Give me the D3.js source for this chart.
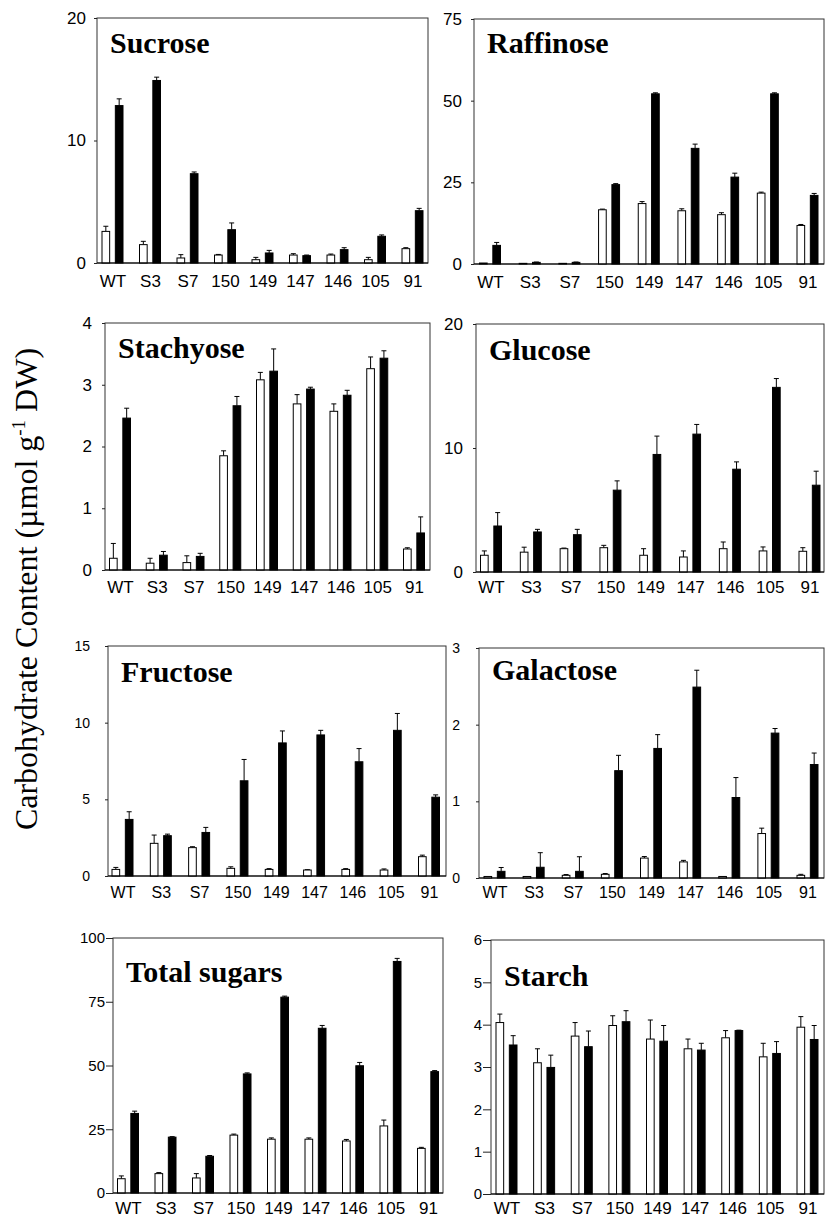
<!DOCTYPE html>
<html>
<head>
<meta charset="utf-8">
<script src="https://cdn.jsdelivr.net/npm/d3@7/dist/d3.min.js"></script>
<style>
  body { margin: 0; background: #fff; }
  .tick text { font-family: "Liberation Sans", Arial, sans-serif; fill: #000; }
  .ptitle { font-family: "Liberation Serif", "Times New Roman", serif; font-weight: bold; font-size: 30px; }
</style>
</head>
<body>
<div id="chart"></div>
<script>
// lines (genotypes) on the x axis
const lines = ['WT', 'S3', 'S7', '150', '149', '147', '146', '105', '91'];

// white bars = open, black bars = filled; err = upper error bar length
const sucroseWhite = [2.58, 1.5, 0.41, 0.65, 0.27, 0.65, 0.65, 0.27, 1.17];
const sucroseWhiteErr = [0.42, 0.27, 0.27, 0.05, 0.19, 0.11, 0.08, 0.19, 0.08];
const sucroseBlack = [12.85, 14.9, 7.29, 2.72, 0.82, 0.6, 1.09, 2.18, 4.27];
const sucroseBlackErr = [0.55, 0.27, 0.14, 0.55, 0.21, 0.05, 0.16, 0.11, 0.19];

const raffinoseWhite = [0.3, 0.2, 0.2, 16.6, 18.5, 16.3, 15.1, 21.7, 11.8];
const raffinoseWhiteErr = [0, 0, 0, 0.2, 0.6, 0.6, 0.6, 0.3, 0.3];
const raffinoseBlack = [5.7, 0.5, 0.5, 24.3, 52.1, 35.4, 26.6, 52.1, 21.0];
const raffinoseBlackErr = [0.9, 0.1, 0.1, 0.3, 0.3, 1.3, 1.2, 0.3, 0.6];

const stachyoseWhite = [0.19, 0.11, 0.12, 1.85, 3.08, 2.69, 2.57, 3.26, 0.34];
const stachyoseWhiteErr = [0.24, 0.08, 0.11, 0.08, 0.12, 0.15, 0.12, 0.19, 0.02];
const stachyoseBlack = [2.46, 0.24, 0.22, 2.66, 3.22, 2.93, 2.83, 3.43, 0.6];
const stachyoseBlackErr = [0.16, 0.06, 0.05, 0.15, 0.36, 0.03, 0.08, 0.12, 0.26];

const glucoseWhite = [1.35, 1.6, 1.88, 1.96, 1.35, 1.21, 1.88, 1.7, 1.67];
const glucoseWhiteErr = [0.35, 0.4, 0.05, 0.19, 0.53, 0.49, 0.54, 0.32, 0.29];
const glucoseBlack = [3.71, 3.23, 3.01, 6.6, 9.48, 11.12, 8.29, 14.89, 7.0];
const glucoseBlackErr = [1.08, 0.21, 0.43, 0.75, 1.48, 0.78, 0.59, 0.71, 1.13];

const fructoseWhite = [0.43, 2.13, 1.85, 0.5, 0.43, 0.39, 0.43, 0.39, 1.26];
const fructoseWhiteErr = [0.13, 0.54, 0.06, 0.1, 0.05, 0.02, 0.05, 0.07, 0.1];
const fructoseBlack = [3.69, 2.63, 2.84, 6.21, 8.68, 9.2, 7.45, 9.5, 5.14];
const fructoseBlackErr = [0.5, 0.1, 0.33, 1.39, 0.78, 0.3, 0.86, 1.1, 0.15];

const galactoseWhite = [0.02, 0.02, 0.035, 0.048, 0.26, 0.21, 0.02, 0.58, 0.035];
const galactoseWhiteErr = [0, 0, 0.01, 0.01, 0.02, 0.02, 0, 0.07, 0.013];
const galactoseBlack = [0.087, 0.14, 0.087, 1.4, 1.69, 2.49, 1.05, 1.89, 1.48];
const galactoseBlackErr = [0.05, 0.19, 0.19, 0.2, 0.18, 0.22, 0.26, 0.06, 0.15];

const totalWhite = [5.6, 7.6, 5.9, 22.7, 21.1, 21.1, 20.4, 26.3, 17.5];
const totalWhiteErr = [1.1, 0.4, 1.7, 0.4, 0.5, 0.5, 0.6, 2.3, 0.4];
const totalBlack = [31.2, 21.9, 14.4, 46.7, 76.8, 64.6, 49.9, 90.8, 47.6];
const totalBlackErr = [0.9, 0.2, 0.3, 0.4, 0.4, 1.1, 1.3, 1.2, 0.4];

const starchWhite = [4.05, 3.1, 3.73, 3.98, 3.66, 3.43, 3.69, 3.24, 3.94];
const starchWhiteErr = [0.2, 0.33, 0.32, 0.23, 0.45, 0.23, 0.17, 0.32, 0.25];
const starchBlack = [3.52, 2.99, 3.48, 4.07, 3.61, 3.4, 3.86, 3.32, 3.65];
const starchBlackErr = [0.22, 0.29, 0.37, 0.26, 0.37, 0.16, 0.01, 0.28, 0.33];

// y axis ticks per panel
const sucroseTicks = [0, 10, 20];
const raffinoseTicks = [0, 25, 50, 75];
const stachyoseTicks = [0, 1, 2, 3, 4];
const glucoseTicks = [0, 10, 20];
const fructoseTicks = [0, 5, 10, 15];
const galactoseTicks = [0, 1, 2, 3];
const totalTicks = [0, 25, 50, 75, 100];
const starchTicks = [0, 1, 2, 3, 4, 5, 6];

const yTitle = 'Carbohydrate Content (µmol g';

// panel layout (pixel boxes) + data refs
const panels = [
  {title: 'Sucrose', w: sucroseWhite, we: sucroseWhiteErr, b: sucroseBlack, be: sucroseBlackErr, ticks: sucroseTicks,
   l: 97, r: 428, t: 18, bot: 263, c0: 112.5, c8: 412.5, tf: 17, tk: 3, tp: 8, ty: 35, xb: 24, xf: 17},
  {title: 'Raffinose', w: raffinoseWhite, we: raffinoseWhiteErr, b: raffinoseBlack, be: raffinoseBlackErr, ticks: raffinoseTicks,
   l: 474, r: 824, t: 19, bot: 264, c0: 490, c8: 807.5, tf: 17, tk: 3, tp: 9, ty: 34, xb: 24, xf: 17},
  {title: 'Stachyose', w: stachyoseWhite, we: stachyoseWhiteErr, b: stachyoseBlack, be: stachyoseBlackErr, ticks: stachyoseTicks,
   l: 105, r: 430, t: 323, bot: 570, c0: 120, c8: 414, tf: 17, tk: 3, tp: 10, ty: 35, xb: 23, xf: 17},
  {title: 'Glucose', w: glucoseWhite, we: glucoseWhiteErr, b: glucoseBlack, be: glucoseBlackErr, ticks: glucoseTicks,
   l: 476, r: 824, t: 324, bot: 572, c0: 491, c8: 809.5, tf: 17, tk: 3, tp: 10, ty: 36, xb: 21, xf: 17},
  {title: 'Fructose', w: fructoseWhite, we: fructoseWhiteErr, b: fructoseBlack, be: fructoseBlackErr, ticks: fructoseTicks,
   l: 108, r: 446, t: 646, bot: 876, c0: 122.5, c8: 429, tf: 14, tk: 3, tp: 15, ty: 36, xb: 22, xf: 16},
  {title: 'Galactose', w: galactoseWhite, we: galactoseWhiteErr, b: galactoseBlack, be: galactoseBlackErr, ticks: galactoseTicks,
   l: 479, r: 824, t: 648, bot: 878, c0: 494.5, c8: 807.5, tf: 14, tk: 3, tp: 16, ty: 32, xb: 20, xf: 16},
  {title: 'Total sugars', w: totalWhite, we: totalWhiteErr, b: totalBlack, be: totalBlackErr, ticks: totalTicks,
   l: 113, r: 443, t: 938, bot: 1193, c0: 128, c8: 428, tf: 15, tk: 7, tp: 1, ty: 44, xb: 21, xf: 17},
  {title: 'Starch', w: starchWhite, we: starchWhiteErr, b: starchBlack, be: starchBlackErr, ticks: starchTicks,
   l: 491, r: 824, t: 940, bot: 1194, c0: 506.5, c8: 807.5, tf: 15, tk: 8, tp: 1, ty: 46, xb: 20, xf: 17}
];

const svg = d3.select('#chart').append('svg')
    .attr('width', 826)
    .attr('height', 1220)
    .style('background', 'white');

// inner offsets for the open / filled bar of each pair
const inner = d3.scaleBand()
    .domain(['white', 'black'])
    .range([-11, 11])
    .paddingInner(0.35);

panels.forEach(p => {
  const g = svg.append('g');
  const x = d3.scalePoint().domain(lines).range([p.c0, p.c8]);
  const yMax = p.ticks[p.ticks.length - 1];
  const y = d3.scaleLinear().domain([0, yMax]).range([p.bot, p.t]);

  // frame
  g.append('rect')
      .attr('x', p.l).attr('y', p.t)
      .attr('width', p.r - p.l).attr('height', p.bot - p.t)
      .attr('fill', 'none').attr('stroke', '#333').attr('stroke-width', 1);

  // y axis
  const ya = g.append('g')
      .attr('transform', 'translate(' + p.l + ',0)')
      .call(d3.axisLeft(y).tickValues(p.ticks).tickSize(p.tk).tickPadding(p.tp).tickFormat(d3.format('d')));
  ya.select('.domain').remove();
  ya.selectAll('.tick line').attr('stroke', '#222');
  ya.selectAll('.tick text').style('font-size', p.tf + 'px');

  // x labels
  const xa = g.append('g')
      .attr('transform', 'translate(0,' + p.bot + ')')
      .call(d3.axisBottom(x).tickSize(0).tickPadding(0));
  xa.select('.domain').remove();
  xa.selectAll('.tick text')
      .attr('dy', null)
      .attr('y', p.xb)
      .style('font-size', p.xf + 'px');

  const rows = lines.map((c, i) => ({cat: c, w: p.w[i], we: p.we[i], b: p.b[i], be: p.be[i]}));
  const bars = [];
  rows.forEach(r => {
    bars.push({cat: r.cat, k: 'white', v: r.w, e: r.we});
    bars.push({cat: r.cat, k: 'black', v: r.b, e: r.be});
  });

  // error bars (upper only)
  const eb = g.selectAll('.err').data(bars).enter().append('g')
      .attr('stroke', '#000').attr('stroke-width', 1);
  eb.append('line')
      .attr('x1', d => x(d.cat) + inner(d.k) + inner.bandwidth() / 2)
      .attr('x2', d => x(d.cat) + inner(d.k) + inner.bandwidth() / 2)
      .attr('y1', d => y(d.v))
      .attr('y2', d => y(d.v + d.e));
  eb.append('line')
      .attr('x1', d => x(d.cat) + inner(d.k) + inner.bandwidth() / 2 - 2.5)
      .attr('x2', d => x(d.cat) + inner(d.k) + inner.bandwidth() / 2 + 2.5)
      .attr('y1', d => y(d.v + d.e))
      .attr('y2', d => y(d.v + d.e))
      .attr('opacity', d => d.e > 0 ? 1 : 0);

  // bars
  g.selectAll('.bar').data(bars).enter().append('rect')
      .attr('x', d => x(d.cat) + inner(d.k) + 0.5)
      .attr('y', d => y(d.v))
      .attr('width', inner.bandwidth() - 1)
      .attr('height', d => Math.max(0, y(0) - y(d.v)))
      .attr('fill', d => d.k === 'white' ? '#fff' : '#000')
      .attr('stroke', '#000')
      .attr('stroke-width', 1);

  // baseline
  g.append('line')
      .attr('x1', p.l).attr('x2', p.r)
      .attr('y1', y(0)).attr('y2', y(0))
      .attr('stroke', '#000').attr('stroke-width', 1.2);

  // title
  g.append('text')
      .attr('class', 'ptitle')
      .attr('x', p.l + 13)
      .attr('y', p.t + p.ty)
      .text(p.title);
});

// shared y axis title
const yt = svg.append('text')
    .attr('transform', 'translate(37,589) rotate(-90)')
    .attr('text-anchor', 'middle')
    .style('font-family', '"Liberation Serif", "Times New Roman", serif')
    .style('font-size', '32px');
yt.append('tspan').text(yTitle);
yt.append('tspan').attr('dy', -12).style('font-size', '19px').text('-1');
yt.append('tspan').attr('dy', 12).text(' DW)');
</script>
</body>
</html>
